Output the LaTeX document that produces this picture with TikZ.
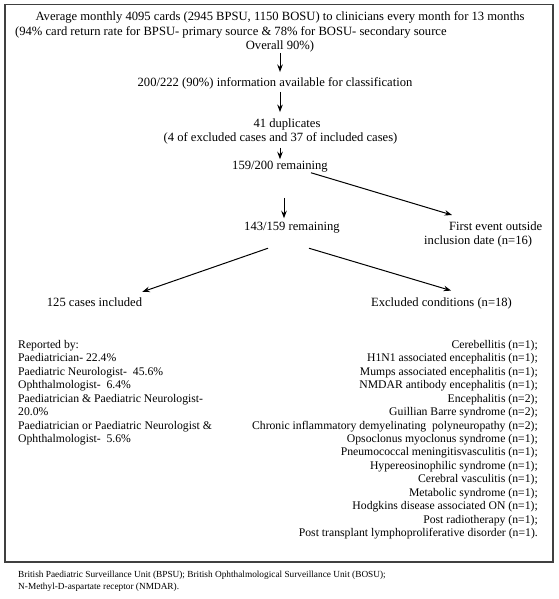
\documentclass[tikz,border=0pt]{standalone}
\usepackage{fontspec}
\setmainfont{Liberation Serif}
\usetikzlibrary{arrows.meta}
\begin{document}
\begin{tikzpicture}[x=1pt,y=-1pt,
  txt/.style={inner sep=0pt, font=\fontsize{12.6}{14.5}\selectfont},
  lst/.style={inner sep=0pt, font=\fontsize{11.7}{13.45}\selectfont},
  arr/.style={-{Stealth[length=7.5pt,width=5.5pt]}, line width=1pt},
  foot/.style={inner sep=0pt, align=left, font=\fontsize{9.3}{12}\selectfont}]
\useasboundingbox (0,0) rectangle (558,599);
\draw[line width=1.2pt, black!75] (5,4.5) rectangle (553,562);
\node[txt] (l1) at (280,17) {Average monthly 4095 cards (2945 BPSU, 1150 BOSU) to clinicians every month for 13 months};
\node[txt, anchor=west] (l2) at (15,32) {(94\% card return rate for BPSU- primary source \& 78\% for BOSU- secondary source};
\node[txt] (l3) at (280,46) {Overall 90\%)};
\node[txt] (info) at (275,83) {200/222 (90\%) information available for classification};
\node[txt] (dupa) at (287,124) {41 duplicates};
\node[txt] (dupb) at (280.5,138) {(4 of excluded cases and 37 of included cases)};
\node[txt] (r159) at (280,167) {159/200 remaining};
\node[txt] (r143) at (292,228) {143/159 remaining};
\node[txt, align=left, anchor=north west] (first) at (424,221.5) {\hspace{25pt}First event outside\\inclusion date (n=16)};
\node[txt] (inc) at (94.5,302) {125 cases included};
\node[txt] (exc) at (441.5,303) {Excluded conditions (n=18)};
\node[lst, align=left, anchor=north west] (rep) at (18,340) {Reported by:\\Paediatrician- 22.4\%\\Paediatric Neurologist-\ \ 45.6\%\\Ophthalmologist-\ \ 6.4\%\\Paediatrician \& Paediatric Neurologist-\\20.0\%\\Paediatrician or Paediatric Neurologist \&\\Ophthalmologist-\ \ 5.6\%};
\node[lst, align=right, anchor=north east] (cond) at (538,340) {Cerebellitis (n=1);\\H1N1 associated encephalitis (n=1);\\Mumps associated encephalitis (n=1);\\NMDAR antibody encephalitis (n=1);\\Encephalitis (n=2);\\Guillian Barre syndrome (n=2);\\Chronic inflammatory demyelinating\ \ polyneuropathy (n=2);\\Opsoclonus myoclonus syndrome (n=1);\\Pneumococcal meningitisvasculitis (n=1);\\Hypereosinophilic syndrome (n=1);\\Cerebral vasculitis (n=1);\\Metabolic syndrome (n=1);\\Hodgkins disease associated ON (n=1);\\Post radiotherapy (n=1);\\Post transplant lymphoproliferative disorder (n=1).};
\node[foot, anchor=north west] (foot) at (18,571) {British Paediatric Surveillance Unit (BPSU); British Ophthalmological Surveillance Unit (BOSU);\\N-Methyl-D-aspartate receptor (NMDAR).};
\draw[arr] ([yshift=-1pt]l3.south) -- ([xshift=5pt,yshift=5pt]info.north);
\draw[arr] ([xshift=5pt,yshift=-3pt]info.south) -- ([xshift=-7pt,yshift=6pt]dupa.north);
\draw[arr] ([xshift=-0.5pt,yshift=-4pt]dupb.south) -- ([yshift=2pt]r159.north);
\draw[arr] ([xshift=4pt,yshift=-25pt]r159.south) -- ([xshift=-8pt,yshift=4pt]r143.north);
\draw[arr] ([xshift=-17pt]r159.south east) -- ([xshift=28pt,yshift=6.5pt]first.north west);
\draw[arr] ([xshift=-24pt,yshift=-14.5pt]r143.south) -- ([yshift=5.5pt]inc.north east);
\draw[arr] ([xshift=17pt,yshift=-14.5pt]r143.south) -- ([xshift=-61pt,yshift=6.5pt]exc.north east);
\end{tikzpicture}
\end{document}
